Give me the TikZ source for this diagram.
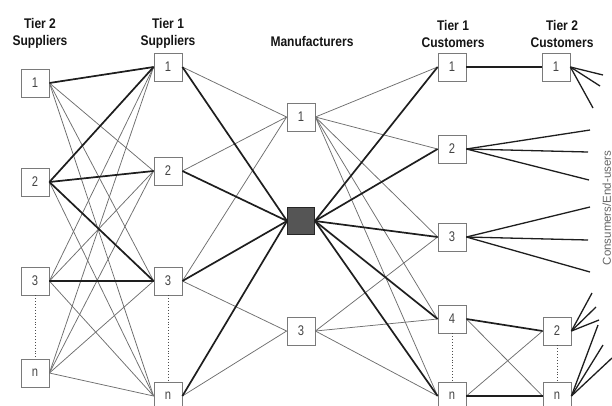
\documentclass[tikz,border=0pt]{standalone}
\usepackage{fontspec}
\setmainfont{Liberation Sans}
\newfontfamily\hdrfont[FakeStretch=0.86]{Liberation Sans}
\newfontfamily\numfont[FakeStretch=0.8]{Liberation Sans}
\definecolor{boxc}{HTML}{7A7A7A}
\definecolor{numc}{HTML}{444444}
\definecolor{hubc}{HTML}{555555}
\definecolor{litec}{HTML}{6E6E6E}
\definecolor{heavyc}{HTML}{1E1E1E}
\definecolor{hdrc}{HTML}{151515}
\begin{document}
\begin{tikzpicture}[x=1pt,y=-1pt,
  box/.style={draw=boxc, fill=white, line width=0.8pt, minimum size=28pt, inner sep=0pt,
    font=\numfont\fontsize{14}{14}\selectfont, text=numc},
  hub/.style={draw=black!85, fill=hubc, line width=0.9pt, minimum size=27pt, inner sep=0pt},
  hdr/.style={font=\hdrfont\bfseries\fontsize{14}{17}\selectfont, align=center, inner sep=0pt, text=hdrc},
  lite/.style={draw=litec, line width=0.75pt},
  heavy/.style={draw=heavyc, line width=1.7pt},
  fan/.style={draw=heavyc, line width=1.3pt},
  dots/.style={draw=black!70, dotted, line width=0.9pt}
]
\useasboundingbox (0,0) rectangle (612,405);
\clip (0,0) rectangle (612,405);

% headers
\node[hdr] (h1) at (40,33.5) {Tier 2\\Suppliers};
\node[hdr] (h2) at (168,33.5) {Tier 1\\Suppliers};
\node[hdr, anchor=base] (h3) at (312,46.5) {Manufacturers};
\node[hdr] (h4) at (453,33.5) {Tier 1\\Customers};
\node[hdr] (h5) at (562,33.5) {Tier 2\\Customers};

% tier 2 suppliers
\node[box] (s2a) at (35,83) {1};
\node[box] (s2b) at (35,182) {2};
\node[box] (s2c) at (35,281) {3};
\node[box] (s2n) at (35,373) {n};
% tier 1 suppliers
\node[box] (s1a) at (168,67) {1};
\node[box] (s1b) at (168,171) {2};
\node[box] (s1c) at (168,281) {3};
\node[box] (s1n) at (168,396) {n};
% manufacturers
\node[box] (m1) at (301,117) {1};
\node[hub] (mh) at (301,221) {};
\node[box] (m3) at (301,331) {3};
% tier 1 customers
\node[box] (c1a) at (452,67) {1};
\node[box] (c1b) at (452,149) {2};
\node[box] (c1c) at (452,237) {3};
\node[box] (c1d) at (452,319) {4};
\node[box] (c1n) at (452,396) {n};
% tier 2 customers
\node[box] (c2a) at (556,67) {1};
\node[box] (c2b) at (557,331) {2};
\node[box] (c2n) at (557,396) {n};

% fan end points
\coordinate (fa1) at (603,75);
\coordinate (fa2) at (600,86);
\coordinate (fa3) at (593,108);
\coordinate (fb1) at (590,130);
\coordinate (fb2) at (588,152);
\coordinate (fb3) at (589,180);
\coordinate (fc1) at (590,207);
\coordinate (fc2) at (588,240);
\coordinate (fc3) at (590,272);
\coordinate (fd1) at (592,293);
\coordinate (fd2) at (596,307);
\coordinate (fd3) at (599,320);
\coordinate (fe1) at (598,325);
\coordinate (fe2) at (603,345);
\coordinate (fe3) at (612,358);

% tier 2 -> tier 1 suppliers
\foreach \a in {a,b,c,n}{\foreach \b in {a,b,c,n}{\draw[lite] (s2\a.east) -- (s1\b.west);}}
\draw[heavy] (s2a.east) -- (s1a.west);
\draw[heavy] (s2b.east) -- (s1a.west);
\draw[heavy] (s2b.east) -- (s1b.west);
\draw[heavy] (s2b.east) -- (s1c.west);
\draw[heavy] (s2c.east) -- (s1c.west);

% tier 1 suppliers -> manufacturers
\draw[lite] (s1a.east) -- (m1.west);
\draw[lite] (s1b.east) -- (m1.west);
\draw[lite] (s1c.east) -- (m1.west);
\draw[lite] (s1c.east) -- (m3.west);
\draw[lite] (s1n.east) -- (m3.west);
\foreach \a in {a,b,c,n}{\draw[heavy] (s1\a.east) -- (mh.west);}

% manufacturers -> tier 1 customers
\foreach \b in {a,b,c,d,n}{\draw[lite] (m1.east) -- (c1\b.west);}
\foreach \b in {c,d,n}{\draw[lite] (m3.east) -- (c1\b.west);}
\foreach \b in {a,b,c,d,n}{\draw[heavy] (mh.east) -- (c1\b.west);}

% tier 1 -> tier 2 customers
\draw[lite] (c1d.east) -- (c2n.west);
\draw[lite] (c1n.east) -- (c2b.west);
\draw[heavy] (c1a.east) -- (c2a.west);
\draw[heavy] (c1d.east) -- (c2b.west);
\draw[heavy] (c1n.east) -- (c2n.west);

% fans to consumers
\foreach \i in {1,2,3}{
  \draw[fan] (c2a.east) -- (fa\i);
  \draw[fan] (c1b.east) -- (fb\i);
  \draw[fan] (c1c.east) -- (fc\i);
  \draw[fan] (c2b.east) -- (fd\i);
  \draw[fan] (c2n.east) -- (fe\i);
}

% dotted continuations
\draw[dots] (s2c.south) -- (s2n.north);
\draw[dots] (s1c.south) -- (s1n.north);
\draw[dots] (c1d.south) -- (c1n.north);
\draw[dots] (c2b.south) -- (c2n.north);

% consumers label
\node[rotate=90, anchor=south, inner sep=0pt, text=black!60, font=\fontsize{11.5}{11.5}\selectfont] (cons) at (611.3,208) {Consumers/End-users};
\end{tikzpicture}
\end{document}
